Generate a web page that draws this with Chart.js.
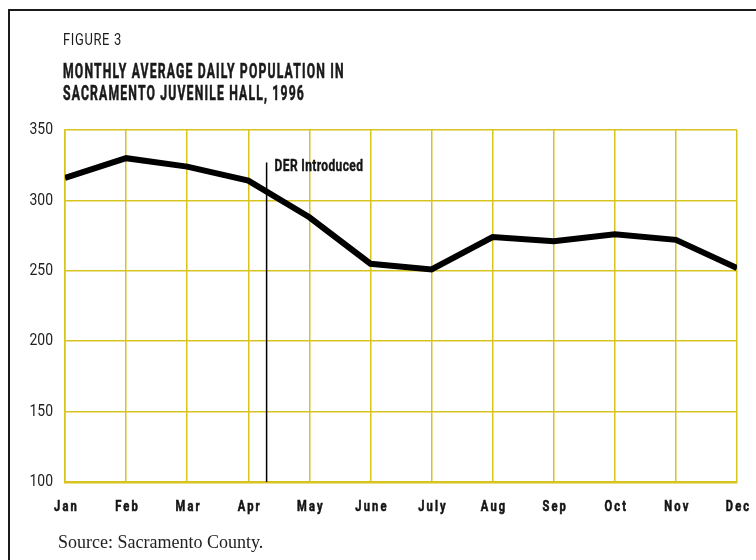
<!DOCTYPE html>
<html>
<head>
<meta charset="utf-8">
<script src="https://cdn.jsdelivr.net/npm/chart.js@4.4.1/dist/chart.umd.min.js"></script>
<style>
  body { margin: 0; background: #fff; }
  #wrap { position: relative; width: 756px; height: 560px; overflow: hidden; }
  #frame { position: absolute; left: 8px; top: 9px; right: -4px; bottom: -4px;
           border-left: 2px solid #1a1a1a; border-top: 2px solid #1a1a1a; }
  canvas { position: absolute; left: 0; top: 0; }
  .cond { font-family: Roboto, "Liberation Sans", sans-serif; color: #1a1a1a; position: absolute;
          white-space: nowrap; transform-origin: 0 0; }
  #fig { left: 63px; top: 30px; font-size: 16px; letter-spacing: 0.8px; }
  #title { left: 63px; top: 60px; font-size: 21px; font-weight: bold; letter-spacing: 2px; line-height: 22px;
           -webkit-text-stroke: 0.6px #1a1a1a; }
  #source { position: absolute; left: 58px; top: 532px; font-family: "Liberation Serif", "DejaVu Serif", serif;
            font-size: 18px; color: #222; }
</style>
</head>
<body>
<div id="wrap">
  <div id="frame"></div>
  <canvas id="chart" width="756" height="560"></canvas>
  <div id="fig" class="cond">FIGURE 3</div>
  <div id="title" class="cond">MONTHLY AVERAGE DAILY POPULATION IN<br>SACRAMENTO JUVENILE HALL, 1996</div>
  <div id="source">Source: Sacramento County.</div>
</div>
<script>
const months = ["Jan", "Feb", "Mar", "Apr", "May", "June", "July", "Aug", "Sep", "Oct", "Nov", "Dec"];
const population = [316, 330, 324, 314, 288, 255, 251, 274, 271, 276, 272, 252];
const yTicks = [100, 150, 200, 250, 300, 350];
const derPosition = 3.3;   // a bit after April
const derTop = 327;
const derLabel = "DER Introduced";

const FONT = 'Roboto, "Liberation Sans", sans-serif';
const gridColor = "#d8c41e";

// no condensed face installed, so squeeze the text horizontally
function squeeze(id, target) {
    const el = document.getElementById(id);
    el.style.transform = "scaleX(" + (target / el.offsetWidth) + ")";
}
squeeze("fig", 59);
squeeze("title", 282);

function condText(ctx, text, x, y, sx, heavy) {
    ctx.save();
    ctx.translate(x, y);
    ctx.scale(sx, 1);
    ctx.fillText(text, 0, 0);
    if (heavy) {
        ctx.lineWidth = heavy;
        ctx.strokeText(text, 0, 0);
    }
    ctx.restore();
}

// tick labels and the DER caption
const labelPlugin = {
    id: "labels",
    afterDraw(chart) {
        const ctx = chart.ctx;
        const x = chart.scales.x, y = chart.scales.y;
        ctx.save();
        ctx.fillStyle = "#151515";
        ctx.strokeStyle = "#151515";
        ctx.textBaseline = "middle";

        ctx.textAlign = "center";
        ctx.font = "bold 15.5px " + FONT;
        ctx.letterSpacing = "3px";
        months.forEach((m, i) => condText(ctx, m, x.getPixelForValue(i) + 1.5, 507, 0.72, 0.6));

        ctx.textAlign = "right";
        ctx.font = "17px " + FONT;
        ctx.letterSpacing = "0px";
        ctx.fillStyle = "#222";
        yTicks.forEach(v => condText(ctx, String(v), 53, y.getPixelForValue(v), 0.82));

        ctx.textAlign = "left";
        ctx.fillStyle = "#151515";
        ctx.font = "bold 16px " + FONT;
        ctx.letterSpacing = "0.5px";
        condText(ctx, derLabel, x.getPixelForValue(derPosition) + 8, y.getPixelForValue(derTop) + 5, 0.75, 0.4);
        ctx.restore();
    }
};

new Chart(document.getElementById("chart").getContext("2d"), {
    type: 'line',
    data: {
        datasets: [{
            data: population.map((v, i) => ({ x: i, y: v })),
            borderColor: "#000",
            borderWidth: 6,
            borderJoinStyle: "miter",
            pointRadius: 0,
            tension: 0
        }, {
            data: [{ x: derPosition, y: 100 }, { x: derPosition, y: derTop }],
            borderColor: "#000",
            borderWidth: 1.5,
            pointRadius: 0
        }]
    },
    options: {
        responsive: false,
        animation: false,
        layout: { padding: { left: 0, top: 130, right: 19, bottom: 0 } },
        plugins: { legend: { display: false }, tooltip: { enabled: false } },
        scales: {
            x: {
                type: 'linear',
                min: 0,
                max: months.length - 1,
                afterBuildTicks: s => { s.ticks = months.map((m, i) => ({ value: i })); },
                afterFit: s => { s.height = 78; },
                grid: { color: gridColor, lineWidth: 1.5, drawTicks: false },
                border: { color: gridColor, width: 2.5 },
                ticks: { display: false }
            },
            y: {
                min: 100,
                max: 350,
                afterBuildTicks: s => { s.ticks = yTicks.map(v => ({ value: v })); },
                afterFit: s => { s.width = 65; },
                grid: { color: gridColor, lineWidth: 1.5, drawTicks: false },
                border: { color: gridColor, width: 1.5 },
                ticks: { display: false }
            }
        }
    },
    plugins: [labelPlugin]
});
</script>
</body>
</html>
